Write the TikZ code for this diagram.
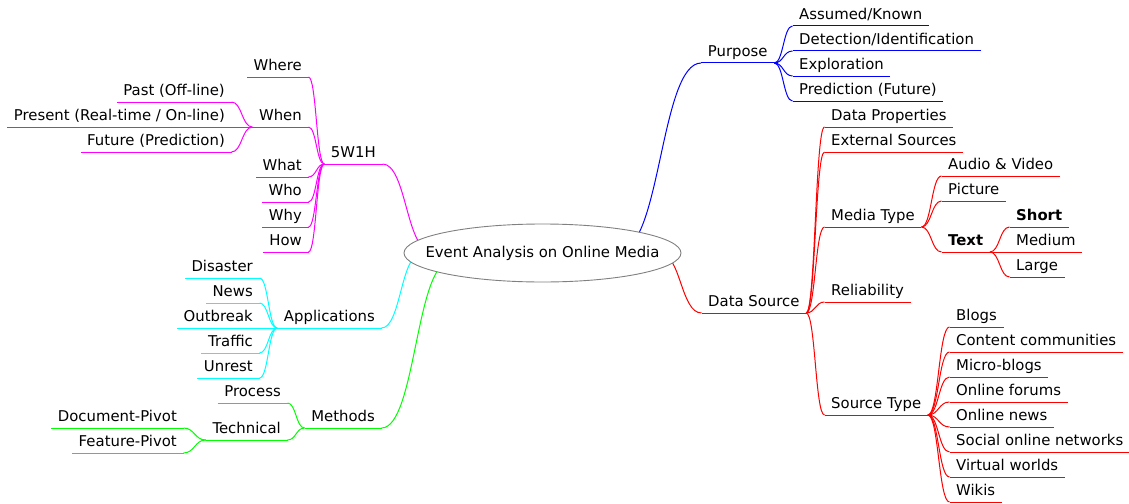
\documentclass[tikz,border=0pt]{standalone}
\usepackage{fontspec}
\setmainfont{DejaVu Sans}
\usetikzlibrary{calc,backgrounds}

\definecolor{mmmagenta}{RGB}{255,0,255}
\definecolor{mmblue}{RGB}{0,0,255}
\definecolor{mmred}{RGB}{255,0,0}
\definecolor{mmcyan}{RGB}{0,255,255}
\definecolor{mmgreen}{RGB}{0,255,0}
\definecolor{rootline}{RGB}{128,128,128}

\tikzset{
  topic/.style={inner xsep=6.5pt, inner ysep=6.3pt, text depth=0pt,
    font=\fontsize{14.87}{17}\selectfont},
  rtopic/.style={topic, anchor=south west},
  ltopic/.style={topic, anchor=south east},
  bold/.style={font=\fontsize{14.87}{17}\selectfont\bfseries},
  branch/.style={line width=1pt},
  centre/.style={inner sep=0pt, font=\fontsize{14.87}{17}\selectfont},
  bubble/.style={draw=rootline, line width=0.9pt, fill=white},
}

% curved branch between two fork points
\newcommand\link[3]{\draw[branch,#1] let \p1=(#2), \p2=(#3) in
  (\p1) .. controls ({0.5*\x1+0.5*\x2},\y1) and ({0.5*\x1+0.5*\x2},\y2) .. (\p2);}
% underline of a topic
\newcommand\uline[2]{\draw[branch,#1] (#2.south west) -- (#2.south east);}

\begin{document}
\begin{tikzpicture}[x=1pt,y=-1pt]
\useasboundingbox (0,0) rectangle (1129,503);

% central topic
\coordinate (rootc) at (542.5,253);
\draw[bubble] (rootc) ellipse [x radius=138.5pt, y radius=29pt];
\node[centre] (root) at (rootc) {Event Analysis on Online Media};
\coordinate (rPurpose) at ($(rootc)+(77.5,-3)$);
\coordinate (rSource)  at ($(rootc)+(117.5,0)$);
\coordinate (r5W1H)    at ($(rootc)+(-112.5,-3)$);
\coordinate (rApps)    at ($(rootc)+(-122.5,2)$);
\coordinate (rMethods) at ($(rootc)+(-92.5,9)$);

% ---------- right side ----------
\node[rtopic] (purpose) at (701.2,63) {Purpose};
\node[rtopic] (assumed) at (792.5,26) {Assumed/Known};
\node[rtopic] (detect)  at (792.5,51) {Detection/Identification};
\node[rtopic] (explore) at (792.5,76) {Exploration};
\node[rtopic] (predict) at (792.5,101) {Prediction (Future)};

\node[rtopic] (datasrc)   at (701.5,313) {Data Source};
\node[rtopic] (dataprop)  at (824.5,127) {Data Properties};
\node[rtopic] (extsrc)    at (824.5,152) {External Sources};
\node[rtopic] (mediatype) at (824.5,227) {Media Type};
\node[rtopic] (reliab)    at (824.5,302) {Reliability};
\node[rtopic] (srctype)   at (824.5,415) {Source Type};

\node[rtopic] (audio)   at (941.5,176) {Audio \& Video};
\node[rtopic] (picture) at (941.5,201) {Picture};
\node[rtopic,bold] (txt) at (941.5,252) {Text};
\node[rtopic,bold] (short) at (1009.5,227) {Short};
\node[rtopic] (medium)  at (1009.5,252) {Medium};
\node[rtopic] (large)   at (1009.5,277) {Large};

\node[rtopic] (blogs)   at (949.5,327) {Blogs};
\node[rtopic] (content) at (949.5,352) {Content communities};
\node[rtopic] (micro)   at (949.5,377) {Micro-blogs};
\node[rtopic] (forums)  at (949.5,402) {Online forums};
\node[rtopic] (onews)   at (949.5,427) {Online news};
\node[rtopic] (social)  at (949.5,452) {Social online networks};
\node[rtopic] (virtual) at (949.5,477) {Virtual worlds};
\node[rtopic] (wikis)   at (949.5,502) {Wikis};

% ---------- left side ----------
\node[ltopic] (w5h)   at (382.5,164) {5W1H};
\node[ltopic] (where) at (308.5,77) {Where};
\node[ltopic] (when)  at (308.5,127) {When};
\node[ltopic] (what)  at (308.5,177) {What};
\node[ltopic] (who)   at (308.5,202) {Who};
\node[ltopic] (why)   at (308.5,227) {Why};
\node[ltopic] (how)   at (308.5,252) {How};
\node[ltopic] (past)    at (231.5,102) {Past (Off-line)};
\node[ltopic] (present) at (231.5,127) {Present (Real-time / On-line)};
\node[ltopic] (future)  at (231.5,152) {Future (Prediction)};

\node[ltopic] (apps)     at (381.5,328) {Applications};
\node[ltopic] (disaster) at (259.5,278) {Disaster};
\node[ltopic] (news)     at (259.5,303) {News};
\node[ltopic] (outbreak) at (259.5,328) {Outbreak};
\node[ltopic] (traffic)  at (259.5,353) {Traffic};
\node[ltopic] (unrest)   at (259.5,378) {Unrest};

\node[ltopic] (methods)   at (381.5,428) {Methods};
\node[ltopic] (process)   at (287.5,403) {Process};
\node[ltopic] (technical) at (287.5,440) {Technical};
\node[ltopic] (docpivot)  at (183.5,428) {Document-Pivot};
\node[ltopic] (featpivot) at (183.5,453) {Feature-Pivot};

\begin{scope}[on background layer]
  % Purpose branch
  \link{mmblue}{rPurpose}{purpose.south west}
  \uline{mmblue}{purpose}
  \foreach \k in {assumed,detect,explore,predict}{
    \link{mmblue}{purpose.south east}{\k.south west}
    \uline{mmblue}{\k}}

  % Data Source branch
  \link{mmred}{rSource}{datasrc.south west}
  \uline{mmred}{datasrc}
  \foreach \k in {dataprop,extsrc,mediatype,reliab,srctype}{
    \link{mmred}{datasrc.south east}{\k.south west}
    \uline{mmred}{\k}}
  \foreach \k in {audio,picture,txt}{
    \link{mmred}{mediatype.south east}{\k.south west}
    \uline{mmred}{\k}}
  \foreach \k in {short,medium,large}{
    \link{mmred}{txt.south east}{\k.south west}
    \uline{mmred}{\k}}
  \foreach \k in {blogs,content,micro,forums,onews,social,virtual,wikis}{
    \link{mmred}{srctype.south east}{\k.south west}
    \uline{mmred}{\k}}

  % 5W1H branch
  \link{mmmagenta}{r5W1H}{w5h.south east}
  \uline{mmmagenta}{w5h}
  \foreach \k in {where,when,what,who,why,how}{
    \link{mmmagenta}{w5h.south west}{\k.south east}
    \uline{mmmagenta}{\k}}
  \foreach \k in {past,present,future}{
    \link{mmmagenta}{when.south west}{\k.south east}
    \uline{mmmagenta}{\k}}

  % Applications branch
  \link{mmcyan}{rApps}{apps.south east}
  \uline{mmcyan}{apps}
  \foreach \k in {disaster,news,outbreak,traffic,unrest}{
    \link{mmcyan}{apps.south west}{\k.south east}
    \uline{mmcyan}{\k}}

  % Methods branch
  \link{mmgreen}{rMethods}{methods.south east}
  \uline{mmgreen}{methods}
  \foreach \k in {process,technical}{
    \link{mmgreen}{methods.south west}{\k.south east}
    \uline{mmgreen}{\k}}
  \foreach \k in {docpivot,featpivot}{
    \link{mmgreen}{technical.south west}{\k.south east}
    \uline{mmgreen}{\k}}
\end{scope}
\end{tikzpicture}
\end{document}
